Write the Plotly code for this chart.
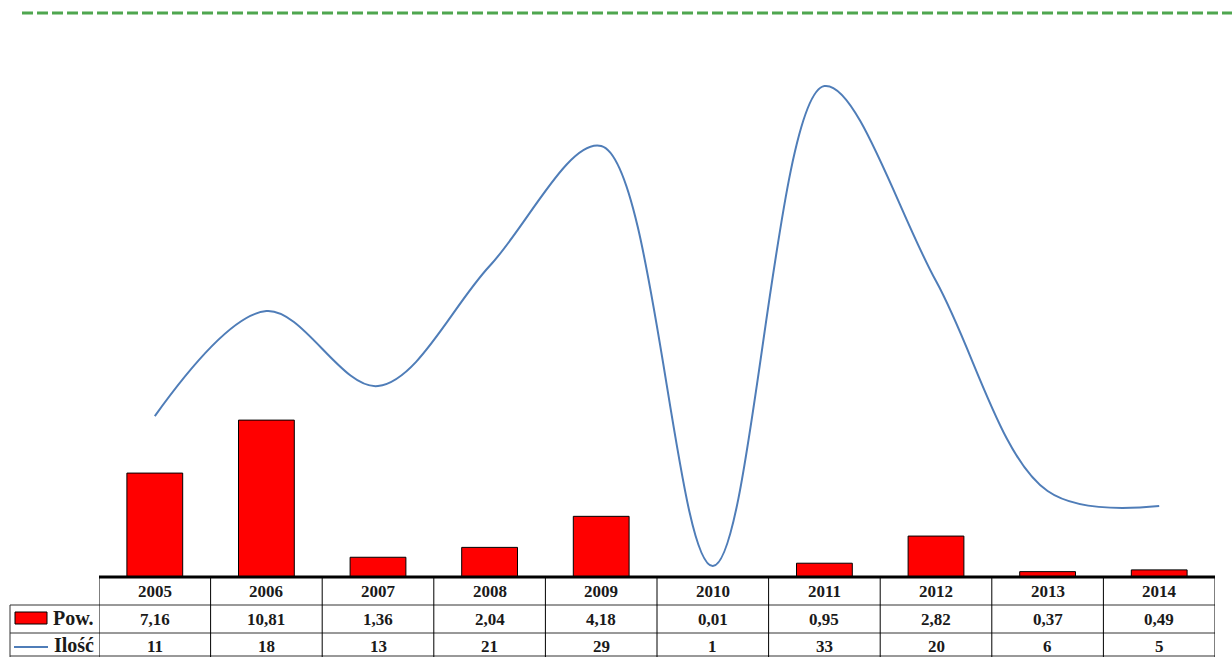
import plotly.graph_objects as go

years = ["2005", "2006", "2007", "2008", "2009", "2010", "2011", "2012", "2013", "2014"]
pow_values = [7.16, 10.81, 1.36, 2.04, 4.18, 0.01, 0.95, 2.82, 0.37, 0.49]
ilosc_values = [11, 18, 13, 21, 29, 1, 33, 20, 6, 5]
pow_labels = ["7,16", "10,81", "1,36", "2,04", "4,18", "0,01", "0,95", "2,82", "0,37", "0,49"]
series_names = ["Pow.", "Ilość"]

W, H = 1232, 657
L, R, T, B = 99, 1215, 40, 577  # plot area in pixels

def py(p):  # pixel y -> paper y
    return (B - p) / (B - T)

def px(p):  # pixel x -> paper x
    return (p - L) / (R - L)

fig = go.Figure()
fig.add_trace(go.Bar(
    x=years, y=pow_values, name=series_names[0],
    marker=dict(color="#FF0000", line=dict(color="#000000", width=1)),
    width=0.5, yaxis="y", showlegend=False,
))
fig.add_trace(go.Scatter(
    x=years, y=ilosc_values, name=series_names[1], mode="lines",
    line=dict(color="#4F7DB8", width=2, shape="spline", smoothing=1.0),
    yaxis="y2", showlegend=False,
))

shapes = []
line_col = "#333333"
# green dashed rule at top
shapes.append(dict(type="line", xref="paper", yref="paper",
                   x0=px(22), x1=px(1232), y0=py(13), y1=py(13),
                   line=dict(color="#4FA64F", width=3, dash="11px,4px")))
# thick axis line
shapes.append(dict(type="line", xref="paper", yref="paper",
                   x0=0, x1=1, y0=0, y1=0, line=dict(color="#000000", width=3)))
# horizontal table lines
for yy in (605, 633, 656):
    shapes.append(dict(type="line", xref="paper", yref="paper",
                       x0=px(10), x1=1, y0=py(yy), y1=py(yy),
                       line=dict(color=line_col, width=1)))
# vertical lines at category boundaries
n = len(years)
for k in range(n + 1):
    shapes.append(dict(type="line", xref="x", yref="paper",
                       x0=k - 0.5, x1=k - 0.5, y0=0, y1=py(657),
                       line=dict(color="#000000", width=1)))
# left edge of legend column
shapes.append(dict(type="line", xref="paper", yref="paper",
                   x0=px(10), x1=px(10), y0=py(605), y1=py(657),
                   line=dict(color=line_col, width=1)))
# legend key: red rectangle
shapes.append(dict(type="rect", xref="paper", yref="paper",
                   x0=px(15), x1=px(47), y0=py(624), y1=py(612),
                   fillcolor="#FF0000", line=dict(color="#000000", width=1)))
# legend key: blue line
shapes.append(dict(type="line", xref="paper", yref="paper",
                   x0=px(14), x1=px(48), y0=py(647), y1=py(647),
                   line=dict(color="#4F7DB8", width=2)))

font = dict(family="Liberation Serif, DejaVu Serif, serif", size=17, color="#1a1a1a")
legend_font = dict(family="Liberation Serif, DejaVu Serif, serif", size=20, color="#1a1a1a")
annotations = []
for i, yr in enumerate(years):
    annotations.append(dict(x=i, y=py(591), xref="x", yref="paper", text=f"<b>{yr}</b>",
                            showarrow=False, font=font, yanchor="middle"))
    annotations.append(dict(x=i, y=py(619), xref="x", yref="paper", text=f"<b>{pow_labels[i]}</b>",
                            showarrow=False, font=font, yanchor="middle"))
    annotations.append(dict(x=i, y=py(646), xref="x", yref="paper", text=f"<b>{ilosc_values[i]}</b>",
                            showarrow=False, font=font, yanchor="middle"))
annotations.append(dict(x=px(96), y=py(618), xref="paper", yref="paper", text=f"<b>{series_names[0]}</b>",
                        xanchor="right", yanchor="middle", showarrow=False, font=legend_font))
annotations.append(dict(x=px(96), y=py(645), xref="paper", yref="paper", text=f"<b>{series_names[1]}</b>",
                        xanchor="right", yanchor="middle", showarrow=False, font=legend_font))

fig.update_layout(
    width=W, height=H,
    margin=dict(l=L, r=W - R, t=T, b=H - B, pad=0),
    paper_bgcolor="#FFFFFF", plot_bgcolor="#FFFFFF",
    xaxis=dict(type="category", range=[-0.5, n - 0.5], showticklabels=False,
               showgrid=False, zeroline=False, showline=False, ticks=""),
    yaxis=dict(range=[0, 37.0], visible=False, showgrid=False, zeroline=False),
    yaxis2=dict(range=[0.27, 36.07], overlaying="y", side="right", visible=False,
                showgrid=False, zeroline=False),
    bargap=0.5,
    shapes=shapes,
    annotations=annotations,
)

fig.write_html("out.html", config={"displayModeBar": False},
               post_script="document.body.style.margin='0';document.body.style.padding='0';document.body.style.overflow='hidden';")
